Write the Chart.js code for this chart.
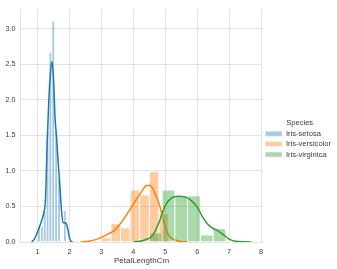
<!DOCTYPE html>
<html>
<head>
<meta charset="utf-8">
<script src="https://cdn.jsdelivr.net/npm/chart.js@4/dist/chart.umd.min.js"></script>
<style>
  body { margin: 0; background: #fff; }
  canvas { display: block; }
</style>
</head>
<body>
<canvas id="chart" width="337" height="269"></canvas>
<script>
// legend / species names
const species = ['Iris-setosa', 'Iris-versicolor', 'Iris-virginica'];

// histogram bin centres and densities
const setosaBins = [1.045, 1.135, 1.225, 1.315, 1.405, 1.495, 1.585, 1.675, 1.765, 1.855];
const setosaDensity = [0.22, 0.22, 0.44, 1.56, 2.67, 3.11, 1.56, 0.89, 0, 0.44];

const versicolorBins = [3.15, 3.45, 3.75, 4.05, 4.35, 4.65, 4.95];
const versicolorDensity = [0.06, 0.26, 0.2, 0.73, 0.66, 0.99, 0.4];

const virginicaBins = [4.7, 5.1, 5.5, 5.9, 6.3, 6.7];
const virginicaDensity = [0.13, 0.73, 0.65, 0.65, 0.1, 0.19];

// kde curves
const setosaKdeX = [0.82, 0.9, 1.0, 1.1, 1.15, 1.2, 1.25, 1.3, 1.35, 1.4, 1.45, 1.5, 1.55, 1.6, 1.65, 1.7, 1.75, 1.8, 1.85, 1.9, 1.95, 2.0, 2.05, 2.1];
const setosaKdeY = [0, 0.04, 0.14, 0.26, 0.33, 0.42, 0.6, 1.35, 1.95, 2.35, 2.54, 2.3, 1.75, 1.45, 1.1, 0.8, 0.45, 0.27, 0.27, 0.26, 0.18, 0.06, 0.01, 0];

const versicolorKdeX = [2.35, 2.6, 2.8, 3.0, 3.2, 3.4, 3.6, 3.8, 4.0, 4.2, 4.4, 4.5, 4.6, 4.7, 4.8, 4.9, 5.0, 5.1, 5.2, 5.4, 5.7];
const versicolorKdeY = [0, 0.01, 0.03, 0.065, 0.11, 0.16, 0.26, 0.39, 0.53, 0.67, 0.79, 0.8, 0.76, 0.66, 0.55, 0.38, 0.22, 0.1, 0.05, 0.015, 0];

const virginicaKdeX = [4.0, 4.2, 4.4, 4.6, 4.8, 5.0, 5.2, 5.4, 5.6, 5.8, 6.0, 6.2, 6.4, 6.6, 6.8, 7.0, 7.2, 7.5, 7.7];
const virginicaKdeY = [0, 0.01, 0.035, 0.09, 0.27, 0.51, 0.62, 0.645, 0.635, 0.59, 0.49, 0.33, 0.22, 0.17, 0.11, 0.04, 0.01, 0.002, 0];

const colors = ['#1f77b4', '#ff7f0e', '#2ca02c'];
const fills = ['rgba(31,119,180,0.4)', 'rgba(255,127,14,0.4)', 'rgba(44,160,44,0.4)'];

const xMin = 0.474, xMax = 8.04;
const family = "'Liberation Sans', Arial, sans-serif";
const tickFont = { family: family, size: 7.2 };
const labelFont = { family: family, size: 7.6 };
const gridColor = '#e3e3e3';
const textColor = '#3a3a3a';

function pairs(xs, ys) {
    return xs.map((x, i) => ({ x: x, y: ys[i] }));
}

function histSet(i, bins, dens, axisId, order) {
    return {
        type: 'bar',
        label: species[i],
        data: pairs(bins, dens),
        xAxisID: axisId,
        backgroundColor: fills[i],
        borderColor: 'rgba(255,255,255,0.9)',
        borderWidth: 0.5,
        borderSkipped: 'start',
        inflateAmount: 0,
        grouped: false,
        barPercentage: 1,
        categoryPercentage: 1,
        order: order
    };
}

function kdeSet(i, xs, ys, order) {
    return {
        type: 'line',
        label: species[i] + ' kde',
        data: pairs(xs, ys),
        xAxisID: 'x',
        borderColor: colors[i],
        borderWidth: 1.5,
        pointRadius: 0,
        fill: false,
        cubicInterpolationMode: 'monotone',
        order: order
    };
}

// hidden x axes so each histogram gets its own bin width
const hiddenX = {
    type: 'linear',
    axis: 'x',
    display: false,
    min: xMin,
    max: xMax,
    offset: false,
    grid: { offset: false }
};

new Chart(document.getElementById('chart'), {
    type: 'bar',
    data: {
        datasets: [
            histSet(0, setosaBins, setosaDensity, 'x', 6),
            kdeSet(0, setosaKdeX, setosaKdeY, 5),
            histSet(1, versicolorBins, versicolorDensity, 'xv', 4),
            kdeSet(1, versicolorKdeX, versicolorKdeY, 3),
            histSet(2, virginicaBins, virginicaDensity, 'xg', 2),
            kdeSet(2, virginicaKdeX, virginicaKdeY, 1)
        ]
    },
    options: {
        responsive: false,
        animation: false,
        devicePixelRatio: 1,
        layout: { padding: { top: 7.6, left: 0, right: 0, bottom: 0 } },
        plugins: {
            tooltip: { enabled: false },
            legend: {
                position: 'right',
                maxWidth: 74.7,
                title: {
                    display: true,
                    text: 'Species',
                    color: textColor,
                    font: labelFont,
                    padding: { top: 4, bottom: -1.5 }
                },
                labels: {
                    color: textColor,
                    font: labelFont,
                    boxWidth: 17,
                    boxHeight: 5,
                    padding: 2.8,
                    filter: (item) => item.datasetIndex % 2 === 0,
                    sort: (a, b) => a.datasetIndex - b.datasetIndex
                }
            }
        },
        scales: {
            x: {
                type: 'linear',
                min: xMin,
                max: xMax,
                offset: false,
                grid: { color: gridColor, offset: false, drawTicks: false },
                border: { color: gridColor },
                ticks: {
                    stepSize: 1,
                    includeBounds: false,
                    color: textColor,
                    font: tickFont,
                    padding: 5.3,
                    maxRotation: 0
                },
                title: {
                    display: true,
                    text: 'PetalLengthCm',
                    color: textColor,
                    font: { family: family, size: 8 },
                    padding: { top: 0, bottom: 3.6 }
                },
                afterFit: (scale) => { scale.height = 27; }
            },
            xv: hiddenX,
            xg: hiddenX,
            y: {
                min: 0,
                max: 3.27,
                grid: { color: gridColor, drawTicks: false },
                border: { color: gridColor },
                ticks: {
                    stepSize: 0.5,
                    includeBounds: false,
                    color: textColor,
                    font: tickFont,
                    padding: 5.3,
                    callback: (v) => v.toFixed(1)
                },
                afterFit: (scale) => { scale.width = 20.7; }
            }
        }
    }
});
</script>
</body>
</html>
